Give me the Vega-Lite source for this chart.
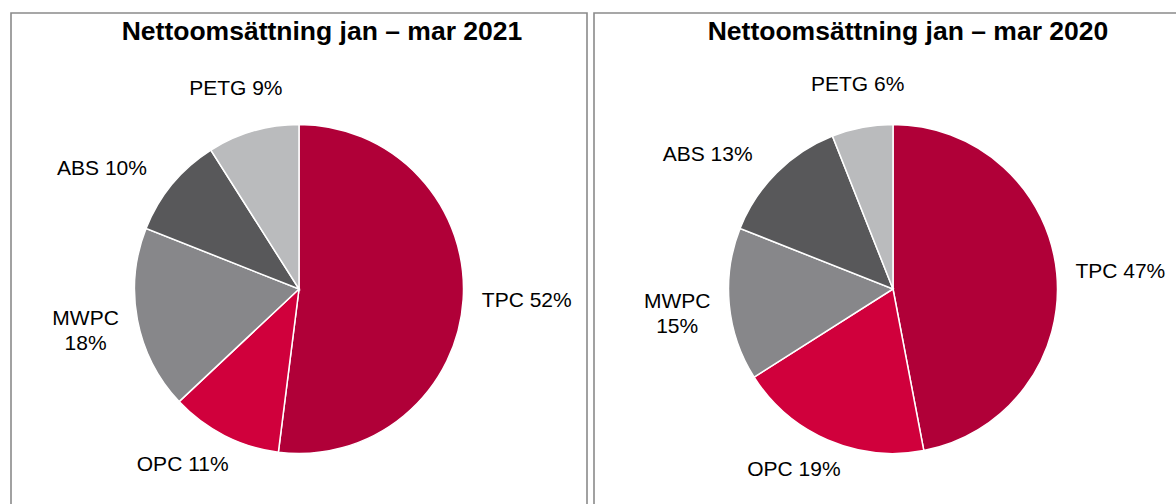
{
  "$schema": "https://vega.github.io/schema/vega-lite/v6.json",
  "padding": {"left": 10, "top": 12, "right": 0, "bottom": 0},
  "background": "white",
  "spacing": 5,
  "datasets": {
    "d2021": [
      {"name": "TPC", "value": 52, "label": "TPC 52%"},
      {"name": "OPC", "value": 11, "label": "OPC 11%"},
      {"name": "MWPC", "value": 18, "label": "MWPC\n18%"},
      {"name": "ABS", "value": 10, "label": "ABS 10%"},
      {"name": "PETG", "value": 9, "label": "PETG 9%"}
    ],
    "d2020": [
      {"name": "TPC", "value": 47, "label": "TPC 47%"},
      {"name": "OPC", "value": 19, "label": "OPC 19%"},
      {"name": "MWPC", "value": 15, "label": "MWPC\n15%"},
      {"name": "ABS", "value": 13, "label": "ABS 13%"},
      {"name": "PETG", "value": 6, "label": "PETG 6%"}
    ]
  },
  "config": {
    "view": {"stroke": "#8a8a8a", "strokeWidth": 1.6},
    "font": "Liberation Sans",
    "title": {"font": "Liberation Sans", "fontSize": 26.5, "fontWeight": "bold", "color": "#000000", "anchor": "middle", "baseline": "alphabetic", "offset": -32}
  },
  "hconcat": [
    {
      "width": 576,
      "height": 552,
      "view": {"stroke": "#8a8a8a", "strokeWidth": 1.6, "fill": "white"},
      "title": {"text": "Nettoomsättning jan – mar 2021", "dx": 23},
      "data": {"name": "d2021"},
      "transform": [{"window": [{"op": "row_number", "as": "ord"}]}],
      "encoding": {
        "theta": {"field": "value", "type": "quantitative", "stack": true},
        "order": {"field": "ord", "type": "quantitative"}
      },
      "layer": [
        {
          "mark": {"type": "arc", "outerRadius": 164.5, "stroke": "white", "strokeWidth": 1.5},
          "encoding": {
            "color": {"field": "name", "type": "nominal", "legend": null,
              "scale": {"domain": ["TPC", "OPC", "MWPC", "ABS", "PETG"], "range": ["#B00038", "#D0003C", "#87878A", "#58585A", "#BABBBD"]}}
          }
        },
        {
          "mark": {"type": "text", "fontSize": 21, "color": "#000000", "align": "center", "baseline": "middle", "lineBreak": "\n", "lineHeight": 24.5,
            "dx": {"expr": "(sin(PI*(datum.value_start+datum.value_end)/100) < 0 ? -1 : 1) * (abs(sin(PI*(datum.value_start+datum.value_end)/100)) > 0.9 ? 0.96 : clamp((abs(sin(PI*(datum.value_start+datum.value_end)/100)) - 0.18)*2.6, 0, 1.2)) * (indexof(datum.label, '\\n') >= 0 ? 34 : 46)"},
            "dy": {"expr": "indexof(datum.label, '\\n') >= 0 ? -4.25 : (cos(PI*(datum.value_start+datum.value_end)/100) > 0 ? (-19 * clamp((cos(PI*(datum.value_start+datum.value_end)/100) - 0.75)*10, 0, 1) - 4 * clamp((cos(PI*(datum.value_start+datum.value_end)/100) - 0.5)*5, 0, 1)) : 12.5 * clamp((abs(cos(PI*(datum.value_start+datum.value_end)/100)) - 0.75)*10, 0, 1))"}},
          "encoding": {
            "radius": {"value": 184},
            "text": {"field": "label"}
          }
        }
      ]
    },
    {
      "width": 598,
      "height": 552,
      "view": {"stroke": "#8a8a8a", "strokeWidth": 1.6, "fill": "white"},
      "title": {"text": "Nettoomsättning jan – mar 2020", "dx": 15},
      "data": {"name": "d2020"},
      "transform": [{"window": [{"op": "row_number", "as": "ord"}]}],
      "encoding": {
        "theta": {"field": "value", "type": "quantitative", "stack": true},
        "order": {"field": "ord", "type": "quantitative"}
      },
      "layer": [
        {
          "mark": {"type": "arc", "outerRadius": 164.5, "stroke": "white", "strokeWidth": 1.5},
          "encoding": {
            "color": {"field": "name", "type": "nominal", "legend": null,
              "scale": {"domain": ["TPC", "OPC", "MWPC", "ABS", "PETG"], "range": ["#B00038", "#D0003C", "#87878A", "#58585A", "#BABBBD"]}}
          }
        },
        {
          "mark": {"type": "text", "fontSize": 21, "color": "#000000", "align": "center", "baseline": "middle", "lineBreak": "\n", "lineHeight": 24.5,
            "dx": {"expr": "(sin(PI*(datum.value_start+datum.value_end)/100) < 0 ? -1 : 1) * (abs(sin(PI*(datum.value_start+datum.value_end)/100)) > 0.9 ? 0.96 : clamp((abs(sin(PI*(datum.value_start+datum.value_end)/100)) - 0.18)*2.6, 0, 1.2)) * (indexof(datum.label, '\\n') >= 0 ? 34 : 46)"},
            "dy": {"expr": "indexof(datum.label, '\\n') >= 0 ? -4.25 : (cos(PI*(datum.value_start+datum.value_end)/100) > 0 ? (-19 * clamp((cos(PI*(datum.value_start+datum.value_end)/100) - 0.75)*10, 0, 1) - 4 * clamp((cos(PI*(datum.value_start+datum.value_end)/100) - 0.5)*5, 0, 1)) : 12.5 * clamp((abs(cos(PI*(datum.value_start+datum.value_end)/100)) - 0.75)*10, 0, 1))"}},
          "encoding": {
            "radius": {"value": 184},
            "text": {"field": "label"}
          }
        }
      ]
    }
  ]
}
